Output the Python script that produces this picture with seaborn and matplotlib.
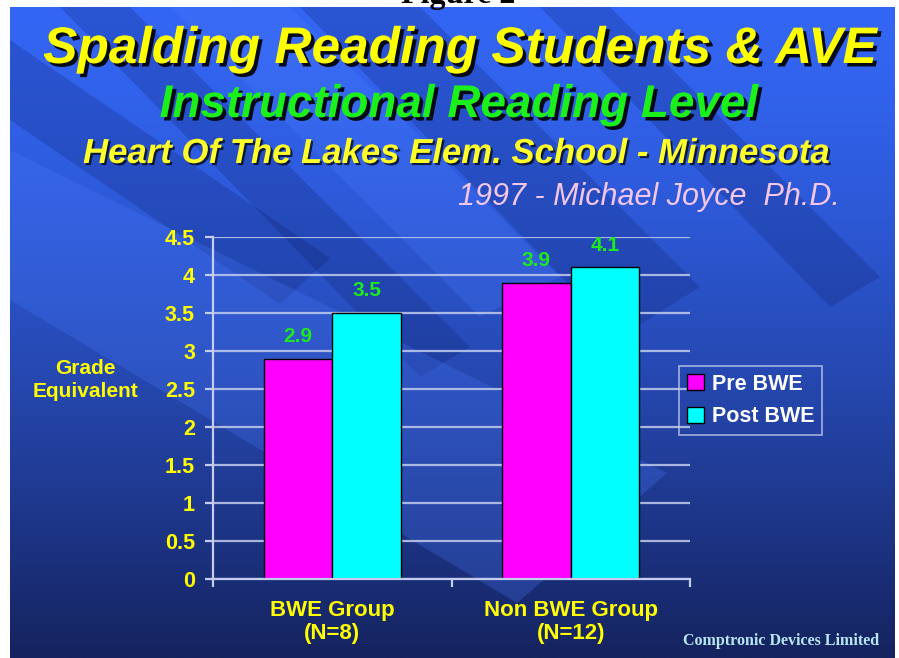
import matplotlib
matplotlib.use("Agg")
import matplotlib.pyplot as plt
import matplotlib.patheffects as pe
from matplotlib.patches import Polygon, Rectangle
import numpy as np
import pandas as pd
import seaborn as sns

# data
groups = ["BWE Group\n(N=8)", "Non BWE Group\n(N=12)"]
phases = ["Pre BWE", "Post BWE"]
pre_bwe = [2.9, 3.9]
post_bwe = [3.5, 4.1]
bar_colors = ["#ff00ff", "#00ffff"]
y_ticks = [0, 0.5, 1, 1.5, 2, 2.5, 3, 3.5, 4, 4.5]
y_tick_labels = ["0", "0.5", "1", "1.5", "2", "2.5", "3", "3.5", "4", "4.5"]

df = pd.DataFrame({
    "group": groups + groups,
    "phase": [phases[0]] * 2 + [phases[1]] * 2,
    "grade": pre_bwe + post_bwe,
})

sns.set_theme(style="white")
plt.rcParams["font.family"] = ["Liberation Sans", "DejaVu Sans"]

W, H = 899, 658
YELLOW = "#ffff00"
GRID = "#c4cdee"

fig = plt.figure(figsize=(W / 100, H / 100), dpi=100)
fig.patch.set_facecolor("white")

# slide background: vertical gradient + diagonal bands
bg = fig.add_axes([0, 0, 1, 1], zorder=0)
t = np.linspace(0, 1, 256) ** 1.4
top = np.array([0x33, 0x66, 0xf4]) / 255
bot = np.array([0x15, 0x23, 0x5e]) / 255
img = top[None, None, :] + (bot - top)[None, None, :] * t[:, None, None]
bg.imshow(img, extent=(10, 895, 658, 7), aspect="auto", interpolation="bilinear")
slide = Rectangle((10, 7), 885, 651, transform=bg.transData, fill=False, lw=0)
bg.add_patch(slide)

dark_bands = [
    [(60, 7), (130, 7), (470, 347), (420, 377)],
    [(300, 7), (420, 7), (700, 287), (620, 337)],
    [(540, 7), (610, 7), (880, 277), (830, 307)],
    [(10, 40), (10, 120), (280, 304), (330, 258)],
]
light_bands = [
    [(10, 150), (10, 300), (517, 603), (667, 473)],
    [(170, 7), (290, 7), (560, 277), (480, 317)],
]
for pts in dark_bands:
    p = Polygon(pts, closed=True, fc="#0a1a60", alpha=0.22, lw=0)
    bg.add_patch(p)
    p.set_clip_path(slide)
for pts in light_bands:
    p = Polygon(pts, closed=True, fc="#4a7cff", alpha=0.25, lw=0)
    bg.add_patch(p)
    p.set_clip_path(slide)
bg.set_xlim(0, W)
bg.set_ylim(H, 0)
bg.axis("off")

# chart
ax = fig.add_axes([213 / W, 1 - 579 / H, (690 - 213) / W, (579 - 237) / H], zorder=1)
ax.set_facecolor("none")
sns.barplot(data=df, x="group", y="grade", hue="phase", hue_order=phases,
            palette=bar_colors, saturation=1, width=0.575,
            edgecolor="black", linewidth=1, ax=ax, zorder=2)

ax.set_xlim(-0.5, 1.5)
ax.set_ylim(0, 4.5)
ax.set_yticks(y_ticks)
ax.set_yticklabels(y_tick_labels, fontweight="bold")
ax.set_xticks([0, 1])
ax.set_xticklabels(groups, fontweight="bold", linespacing=1.15)
ax.set_xticks([-0.5, 0.5, 1.5], minor=True)
ax.set_xlabel("")
ax.set_ylabel("")
ax.yaxis.grid(True, color=GRID, linewidth=1.6, alpha=0.85)
ax.set_axisbelow(True)
for s in ["top", "right"]:
    ax.spines[s].set_visible(False)
for s in ["left", "bottom"]:
    ax.spines[s].set_color(GRID)
    ax.spines[s].set_linewidth(1.6)
ax.tick_params(axis="y", left=True, length=6, width=1.6, color=GRID,
               labelcolor=YELLOW, labelsize=15.5, pad=7)
ax.tick_params(axis="x", which="major", length=0, labelcolor=YELLOW,
               labelsize=16, pad=15)
ax.tick_params(axis="x", which="minor", bottom=True, length=6, width=1.6,
               color=GRID, direction="out")

for cont in ax.containers:
    ax.bar_label(cont, fmt="%.1f", padding=9, color="#1ee81e",
                 fontsize=15, fontweight="bold")

handles, labels = ax.get_legend_handles_labels()
leg = ax.legend(handles, labels, loc="upper left",
                bbox_to_anchor=(679 / W, 1 - 366 / H), bbox_transform=fig.transFigure,
                frameon=True, fancybox=False, facecolor="none", edgecolor=GRID,
                prop={"size": 15.5, "weight": "bold"}, labelcolor="white",
                handlelength=0.8, handleheight=0.8, handletextpad=0.4,
                borderaxespad=0, borderpad=0.35, labelspacing=0.55)
leg.get_frame().set_linewidth(1.2)

# texts
shadow = [pe.withSimplePatchShadow(offset=(2.5, -2.5), shadow_rgbFace="black", alpha=0.9)]
small_shadow = [pe.withSimplePatchShadow(offset=(1.5, -1.5), shadow_rgbFace="black", alpha=0.7)]

fig.text(460 / W, 1 - 63 / H, "Spalding Reading Students & AVE", ha="center",
         va="baseline", fontsize=37, fontweight="bold", fontstyle="italic",
         color=YELLOW, path_effects=shadow)
fig.text(459 / W, 1 - 117 / H, "Instructional Reading Level", ha="center",
         va="baseline", fontsize=33, fontweight="bold", fontstyle="italic",
         color="#1cf01c", path_effects=shadow)
fig.text(457 / W, 1 - 163 / H, "Heart Of The Lakes Elem. School - Minnesota",
         ha="center", va="baseline", fontsize=25, fontweight="bold",
         fontstyle="italic", color="#ffff2a", path_effects=small_shadow)
fig.text(840 / W, 1 - 205 / H, "1997 - Michael Joyce  Ph.D.", ha="right",
         va="baseline", fontsize=22, fontstyle="italic", color="#f4c6ea")

fig.text(85 / W, 1 - 380 / H, "Grade\nEquivalent", ha="center", va="center",
         fontsize=15, fontweight="bold", color=YELLOW, linespacing=1.25)

fig.text(683 / W, 1 - 645 / H, "Comptronic Devices Limited", ha="left",
         va="baseline", fontsize=11.5, fontweight="bold",
         family=["Liberation Serif", "DejaVu Serif"], color="#b8e6f2")
fig.text(458 / W, 1 - 3 / H, "Figure 2", ha="center", va="baseline",
         fontsize=23, fontweight="bold", family=["Liberation Serif", "DejaVu Serif"],
         color="black")

fig.savefig("out.png", dpi=100)
